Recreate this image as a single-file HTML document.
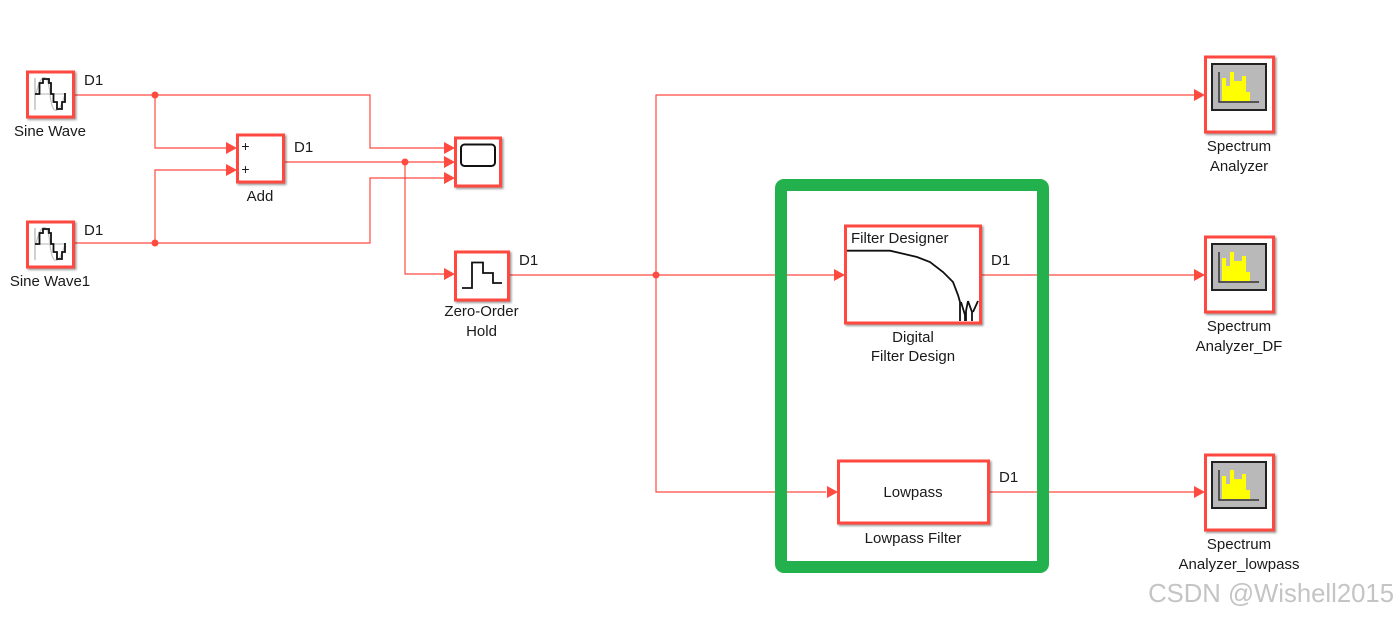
<!DOCTYPE html>
<html><head><meta charset="utf-8"><style>
html,body{margin:0;padding:0;background:#fff}
svg{display:block}
text{font-family:"Liberation Sans",sans-serif;font-size:15px;fill:#1a1a1a}
.m{text-anchor:middle}
.w{fill:none;stroke:#ff4a40;stroke-width:1.2}
.b{fill:#fff;stroke:#ff4a40;stroke-width:3;filter:url(#s)}
.k{fill:none;stroke:#111;stroke-width:1.8}
.a{fill:#ff4a40}
</style></head><body>
<svg width="1399" height="617" viewBox="0 0 1399 617" xmlns="http://www.w3.org/2000/svg">
<defs>
<filter id="s" x="-10%" y="-10%" width="125%" height="125%"><feDropShadow dx="1.5" dy="1.5" stdDeviation="1" flood-color="#000" flood-opacity=".4"/></filter>
<g id="sine">
<path d="M8 6V38" stroke="#bbb" stroke-width="1.4" fill="none"/>
<path d="M8 22H38M9 22C14 0 21 0 23 22S32 44 38 22" stroke="#c4c4c4" stroke-width="1.2" fill="none"/>
<path class="k" d="M8 22H12.500V11H16V7H22V11H24V22H26.500V30H30V37H35V30H38V21"/>
</g>
<g id="spec">
<rect x="7" y="7" width="54" height="46" fill="#b9b9b9" stroke="#222" stroke-width="2"/>
<path d="M17 21H21V29H25V15H29V24H37V19H41V35H45V44H17Z" fill="#ff0"/>
<path d="M14 15V45H54" fill="none" stroke="#333" stroke-width="1.500"/>
</g>
<polygon id="ar" points="-11,-6 0,0 -11,6" class="a"/>
</defs>

<path class="w" d="M73 95H370V148H444M155 95V148H226"/>
<path class="w" d="M73 243H370V178H444M155 243V170H226"/>
<path class="w" d="M283 162H444M405 162V274H444"/>
<path class="w" d="M509 275H834M656 275V95H1194M656 275V492H826"/>
<path class="w" d="M981 275H1194M988 492H1194"/>

<rect x="781" y="185" width="262" height="382" rx="3" fill="none" stroke="#22b14c" stroke-width="12"/>

<circle class="a" cx="155" cy="95" r="3.500"/>
<circle class="a" cx="155" cy="243" r="3.500"/>
<circle class="a" cx="405" cy="162" r="3.500"/>
<circle class="a" cx="656" cy="275" r="3.500"/>

<use href="#ar" x="237" y="148"/><use href="#ar" x="237" y="170"/>
<use href="#ar" x="455" y="148"/><use href="#ar" x="455" y="162"/><use href="#ar" x="455" y="178"/>
<use href="#ar" x="455" y="274"/>
<use href="#ar" x="845" y="275"/><use href="#ar" x="838" y="492"/>
<use href="#ar" x="1205" y="95"/><use href="#ar" x="1205" y="275"/><use href="#ar" x="1205" y="492"/>

<rect class="b" x="27.500" y="72" width="46" height="45"/>
<use href="#sine" x="27" y="72"/>
<rect class="b" x="27.500" y="222" width="46" height="45"/>
<use href="#sine" x="27" y="222"/>

<rect class="b" x="237.500" y="135" width="46" height="47"/>
<text x="245.500" y="151" class="m" style="font-size:14px">+</text>
<text x="245.500" y="174" class="m" style="font-size:14px">+</text>

<rect class="b" x="455.500" y="138" width="45" height="48"/>
<rect x="461" y="144.500" width="34" height="21.500" rx="3.500" fill="none" stroke="#111" stroke-width="2"/>

<rect class="b" x="455.500" y="252" width="53" height="48"/>
<path class="k" d="M462 288H472V262.500H483V273H493V283H502"/>

<rect class="b" x="845.500" y="226" width="135" height="97"/>
<text x="851" y="243">Filter Designer</text>
<path class="k" d="M847 250.700H890L900 253L917 257L930 262L943 272L953 282L958 295L960 302V321M961 302L965 315V321M968 301L966 311V321M968 301L972 312V321M978 301L973 312"/>

<rect class="b" x="838.500" y="461" width="150" height="62"/>
<text x="913" y="497" class="m">Lowpass</text>

<rect class="b" x="1205.500" y="57" width="68" height="75"/>
<use href="#spec" x="1205" y="57"/>
<rect class="b" x="1205.500" y="237" width="68" height="75"/>
<use href="#spec" x="1205" y="237"/>
<rect class="b" x="1205.500" y="455" width="68" height="75"/>
<use href="#spec" x="1205" y="455"/>

<text x="84" y="85">D1</text>
<text x="84" y="235">D1</text>
<text x="294" y="152">D1</text>
<text x="519" y="265">D1</text>
<text x="991" y="265">D1</text>
<text x="999" y="482">D1</text>

<text x="50" y="136" class="m">Sine Wave</text>
<text x="50" y="286" class="m">Sine Wave1</text>
<text x="260" y="201" class="m">Add</text>
<text x="481.500" y="316" class="m">Zero-Order</text>
<text x="481.500" y="336" class="m">Hold</text>
<text x="913" y="342" class="m">Digital</text>
<text x="913" y="361" class="m">Filter Design</text>
<text x="913" y="543" class="m">Lowpass Filter</text>
<text x="1239" y="151" class="m">Spectrum</text>
<text x="1239" y="171" class="m">Analyzer</text>
<text x="1239" y="331" class="m">Spectrum</text>
<text x="1239" y="351" class="m">Analyzer_DF</text>
<text x="1239" y="549" class="m">Spectrum</text>
<text x="1239" y="569" class="m">Analyzer_lowpass</text>

<text x="1394" y="602" text-anchor="end" style="font-size:25.700px;fill:#c4c4c4">CSDN @Wishell2015</text>
</svg>
</body></html>
